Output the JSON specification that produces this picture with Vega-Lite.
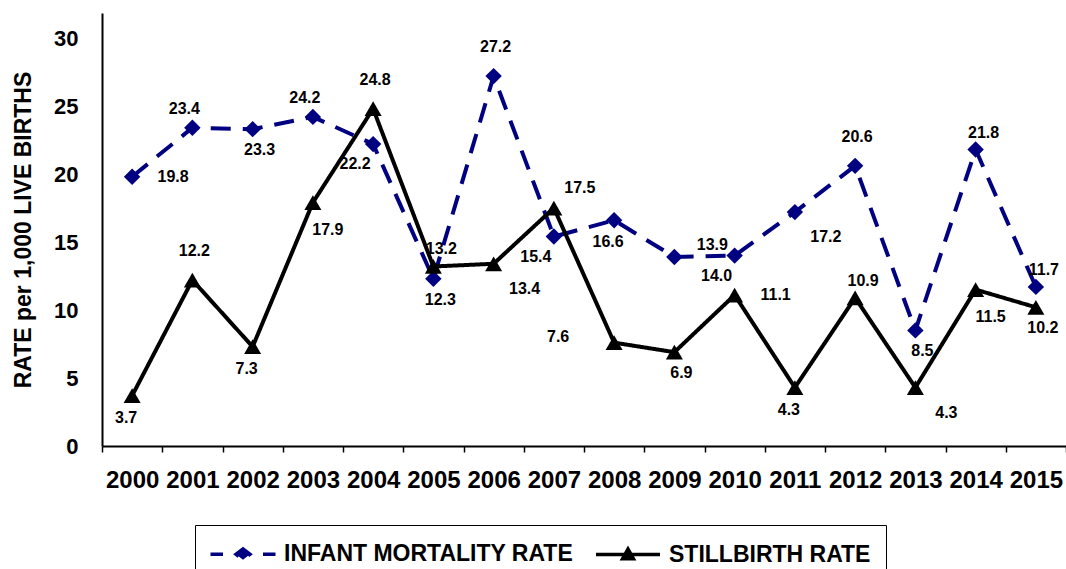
{
  "$schema": "https://vega.github.io/schema/vega-lite/v6.json",
  "autosize": "none",
  "padding": {"left": 102, "top": 13, "right": 0, "bottom": 123},
  "width": 964,
  "height": 433,
  "background": "white",
  "config": {"view": {"stroke": null}, "font": "Liberation Sans"},
  "data": {"values": [
    {"year": "2000", "series": "INFANT MORTALITY RATE", "value": 19.8},
    {"year": "2001", "series": "INFANT MORTALITY RATE", "value": 23.4},
    {"year": "2002", "series": "INFANT MORTALITY RATE", "value": 23.3},
    {"year": "2003", "series": "INFANT MORTALITY RATE", "value": 24.2},
    {"year": "2004", "series": "INFANT MORTALITY RATE", "value": 22.2},
    {"year": "2005", "series": "INFANT MORTALITY RATE", "value": 12.3},
    {"year": "2006", "series": "INFANT MORTALITY RATE", "value": 27.2},
    {"year": "2007", "series": "INFANT MORTALITY RATE", "value": 15.4},
    {"year": "2008", "series": "INFANT MORTALITY RATE", "value": 16.6},
    {"year": "2009", "series": "INFANT MORTALITY RATE", "value": 13.9},
    {"year": "2010", "series": "INFANT MORTALITY RATE", "value": 14.0},
    {"year": "2011", "series": "INFANT MORTALITY RATE", "value": 17.2},
    {"year": "2012", "series": "INFANT MORTALITY RATE", "value": 20.6},
    {"year": "2013", "series": "INFANT MORTALITY RATE", "value": 8.5},
    {"year": "2014", "series": "INFANT MORTALITY RATE", "value": 21.8},
    {"year": "2015", "series": "INFANT MORTALITY RATE", "value": 11.7},
    {"year": "2000", "series": "STILLBIRTH RATE", "value": 3.7},
    {"year": "2001", "series": "STILLBIRTH RATE", "value": 12.2},
    {"year": "2002", "series": "STILLBIRTH RATE", "value": 7.3},
    {"year": "2003", "series": "STILLBIRTH RATE", "value": 17.9},
    {"year": "2004", "series": "STILLBIRTH RATE", "value": 24.8},
    {"year": "2005", "series": "STILLBIRTH RATE", "value": 13.2},
    {"year": "2006", "series": "STILLBIRTH RATE", "value": 13.4},
    {"year": "2007", "series": "STILLBIRTH RATE", "value": 17.5},
    {"year": "2008", "series": "STILLBIRTH RATE", "value": 7.6},
    {"year": "2009", "series": "STILLBIRTH RATE", "value": 6.9},
    {"year": "2010", "series": "STILLBIRTH RATE", "value": 11.1},
    {"year": "2011", "series": "STILLBIRTH RATE", "value": 4.3},
    {"year": "2012", "series": "STILLBIRTH RATE", "value": 10.9},
    {"year": "2013", "series": "STILLBIRTH RATE", "value": 4.3},
    {"year": "2014", "series": "STILLBIRTH RATE", "value": 11.5},
    {"year": "2015", "series": "STILLBIRTH RATE", "value": 10.2}
  ]},
  "encoding": {
    "x": {
      "field": "year", "type": "ordinal",
      "scale": {"type": "band", "paddingInner": 0, "paddingOuter": 0},
      "axis": {
        "title": null, "tickBand": "extent", "labelAngle": 0, "labelOverlap": false, "labelBound": false,
        "labelFontSize": 24, "labelFontWeight": "bold", "labelColor": "black", "labelFont": "Liberation Sans",
        "labelPadding": 16, "tickSize": 6, "tickColor": "black", "tickWidth": 1.5,
        "domainColor": "black", "domainWidth": 2, "grid": false
      }
    },
    "y": {
      "field": "value", "type": "quantitative",
      "scale": {"domain": [0, 31.84], "nice": false, "zero": true},
      "axis": {
        "title": "RATE per 1,000 LIVE BIRTHS", "values": [0, 5, 10, 15, 20, 25, 30],
        "grid": false, "ticks": false, "tickSize": 0, "labelPadding": 24,
        "labelFontSize": 22, "labelFontWeight": "bold", "labelColor": "black", "labelFont": "Liberation Sans",
        "domainColor": "black", "domainWidth": 2,
        "titleFontSize": 23, "titleFontWeight": "bold", "titleColor": "black", "titleFont": "Liberation Sans",
        "titlePadding": 18
      }
    }
  },
  "layer": [
    {
      "mark": {"type": "line", "strokeWidth": 4},
      "encoding": {
        "color": {
          "field": "series", "type": "nominal",
          "scale": {"domain": ["INFANT MORTALITY RATE", "STILLBIRTH RATE"], "range": ["#000080", "#000000"]},
          "legend": {
            "orient": "none", "legendX": 93, "legendY": 512, "direction": "horizontal", "title": null,
            "strokeColor": "black", "padding": 15, "labelFontSize": 23, "labelFont": "Liberation Sans",
            "labelFontWeight": "bold", "labelColor": "black", "labelLimit": 400, "symbolSize": 576,
            "labelOffset": 46, "columnPadding": 15,
            "encode": {"symbols": {"update": {
              "shape": {"signal": "datum.value == 'INFANT MORTALITY RATE' ? 'M-1.125,0L-0.083,0M1.0,0L1.583,-0.45L2.167,0L1.583,0.45ZM3.25,0L4.292,0' : 'M-1.083,0L4.25,0M1.13,0.36L1.583,-0.45L2.036,0.36Z'"},
              "fill": {"signal": "datum.value == 'INFANT MORTALITY RATE' ? '#000080' : '#000000'"},
              "stroke": {"signal": "datum.value == 'INFANT MORTALITY RATE' ? '#000080' : '#000000'"},
              "strokeWidth": {"value": 3.5},
              "strokeDash": {"value": [1, 0]},
              "size": {"value": 576},
              "opacity": {"value": 1},
              "fillOpacity": {"value": 1},
              "strokeOpacity": {"value": 1}
            }}}
          }
        },
        "strokeDash": {
          "field": "series", "type": "nominal",
          "scale": {"domain": ["INFANT MORTALITY RATE", "STILLBIRTH RATE"], "range": [[20, 12], [1, 0]]},
          "legend": null
        }
      }
    },
    {
      "transform": [{"filter": "datum.series == 'INFANT MORTALITY RATE'"}],
      "mark": {"type": "point", "shape": "diamond", "filled": true, "opacity": 1, "color": "#000080", "size": 270}
    },
    {
      "transform": [{"filter": "datum.series == 'STILLBIRTH RATE'"}],
      "mark": {"type": "point", "shape": "triangle-up", "filled": true, "opacity": 1, "color": "#000000", "size": 290}
    },
    {
      "transform": [{"filter": "(datum.series == 'INFANT MORTALITY RATE' && indexof(['2006','2012'], datum.year) >= 0) || (datum.series == 'STILLBIRTH RATE' && indexof(['2004','2001'], datum.year) >= 0)"}],
      "mark": {"type": "text", "dx": 2, "dy": -29, "fontSize": 16, "fontWeight": "bold", "font": "Liberation Sans", "color": "black", "align": "center", "baseline": "middle"},
      "encoding": {"text": {"field": "value", "type": "quantitative", "format": ".1f"}}
    },
    {
      "transform": [{"filter": "datum.series == 'INFANT MORTALITY RATE' && indexof(['2001','2003'], datum.year) >= 0"}],
      "mark": {"type": "text", "dx": -8, "dy": -19, "fontSize": 16, "fontWeight": "bold", "font": "Liberation Sans", "color": "black", "align": "center", "baseline": "middle"},
      "encoding": {"text": {"field": "value", "type": "quantitative", "format": ".1f"}}
    },
    {
      "transform": [{"filter": "(datum.series == 'INFANT MORTALITY RATE' && indexof(['2014','2015'], datum.year) >= 0) || (datum.series == 'STILLBIRTH RATE' && indexof(['2005','2012'], datum.year) >= 0)"}],
      "mark": {"type": "text", "dx": 8, "dy": -17, "fontSize": 16, "fontWeight": "bold", "font": "Liberation Sans", "color": "black", "align": "center", "baseline": "middle"},
      "encoding": {"text": {"field": "value", "type": "quantitative", "format": ".1f"}}
    },
    {
      "transform": [{"filter": "(datum.series == 'INFANT MORTALITY RATE' && indexof(['2008'], datum.year) >= 0) || (datum.series == 'STILLBIRTH RATE' && indexof(['2002','2000','2011'], datum.year) >= 0)"}],
      "mark": {"type": "text", "dx": -6, "dy": 22, "fontSize": 16, "fontWeight": "bold", "font": "Liberation Sans", "color": "black", "align": "center", "baseline": "middle"},
      "encoding": {"text": {"field": "value", "type": "quantitative", "format": ".1f"}}
    },
    {
      "transform": [{"filter": "(datum.series == 'INFANT MORTALITY RATE' && indexof(['2002','2013','2005'], datum.year) >= 0) || (datum.series == 'STILLBIRTH RATE' && indexof(['2009','2015'], datum.year) >= 0)"}],
      "mark": {"type": "text", "dx": 7, "dy": 21, "fontSize": 16, "fontWeight": "bold", "font": "Liberation Sans", "color": "black", "align": "center", "baseline": "middle"},
      "encoding": {"text": {"field": "value", "type": "quantitative", "format": ".1f"}}
    },
    {
      "transform": [{"filter": "datum.series == 'INFANT MORTALITY RATE' && indexof(['2004','2007','2010'], datum.year) >= 0"}],
      "mark": {"type": "text", "dx": -18, "dy": 20, "fontSize": 16, "fontWeight": "bold", "font": "Liberation Sans", "color": "black", "align": "center", "baseline": "middle"},
      "encoding": {"text": {"field": "value", "type": "quantitative", "format": ".1f"}}
    },
    {
      "transform": [{"filter": "(datum.series == 'INFANT MORTALITY RATE' && indexof(['2000'], datum.year) >= 0) || (datum.series == 'STILLBIRTH RATE' && indexof(['2010'], datum.year) >= 0)"}],
      "mark": {"type": "text", "dx": 41, "dy": 0, "fontSize": 16, "fontWeight": "bold", "font": "Liberation Sans", "color": "black", "align": "center", "baseline": "middle"},
      "encoding": {"text": {"field": "value", "type": "quantitative", "format": ".1f"}}
    },
    {
      "transform": [{"filter": "(datum.series == 'INFANT MORTALITY RATE' && indexof(['2011'], datum.year) >= 0) || (datum.series == 'STILLBIRTH RATE' && indexof(['2006','2013'], datum.year) >= 0)"}],
      "mark": {"type": "text", "dx": 31, "dy": 25, "fontSize": 16, "fontWeight": "bold", "font": "Liberation Sans", "color": "black", "align": "center", "baseline": "middle"},
      "encoding": {"text": {"field": "value", "type": "quantitative", "format": ".1f"}}
    },
    {
      "transform": [{"filter": "datum.series == 'STILLBIRTH RATE' && indexof(['2003','2014'], datum.year) >= 0"}],
      "mark": {"type": "text", "dx": 15, "dy": 27, "fontSize": 16, "fontWeight": "bold", "font": "Liberation Sans", "color": "black", "align": "center", "baseline": "middle"},
      "encoding": {"text": {"field": "value", "type": "quantitative", "format": ".1f"}}
    },
    {
      "transform": [{"filter": "datum.series == 'STILLBIRTH RATE' && datum.year == '2007'"}],
      "mark": {"type": "text", "dx": 26, "dy": -20, "fontSize": 16, "fontWeight": "bold", "font": "Liberation Sans", "color": "black", "align": "center", "baseline": "middle"},
      "encoding": {"text": {"field": "value", "type": "quantitative", "format": ".1f"}}
    },
    {
      "transform": [{"filter": "datum.series == 'STILLBIRTH RATE' && datum.year == '2008'"}],
      "mark": {"type": "text", "dx": -56, "dy": -6, "fontSize": 16, "fontWeight": "bold", "font": "Liberation Sans", "color": "black", "align": "center", "baseline": "middle"},
      "encoding": {"text": {"field": "value", "type": "quantitative", "format": ".1f"}}
    },
    {
      "transform": [{"filter": "datum.series == 'INFANT MORTALITY RATE' && datum.year == '2009'"}],
      "mark": {"type": "text", "dx": 38, "dy": -12, "fontSize": 16, "fontWeight": "bold", "font": "Liberation Sans", "color": "black", "align": "center", "baseline": "middle"},
      "encoding": {"text": {"field": "value", "type": "quantitative", "format": ".1f"}}
    }
  ]
}
